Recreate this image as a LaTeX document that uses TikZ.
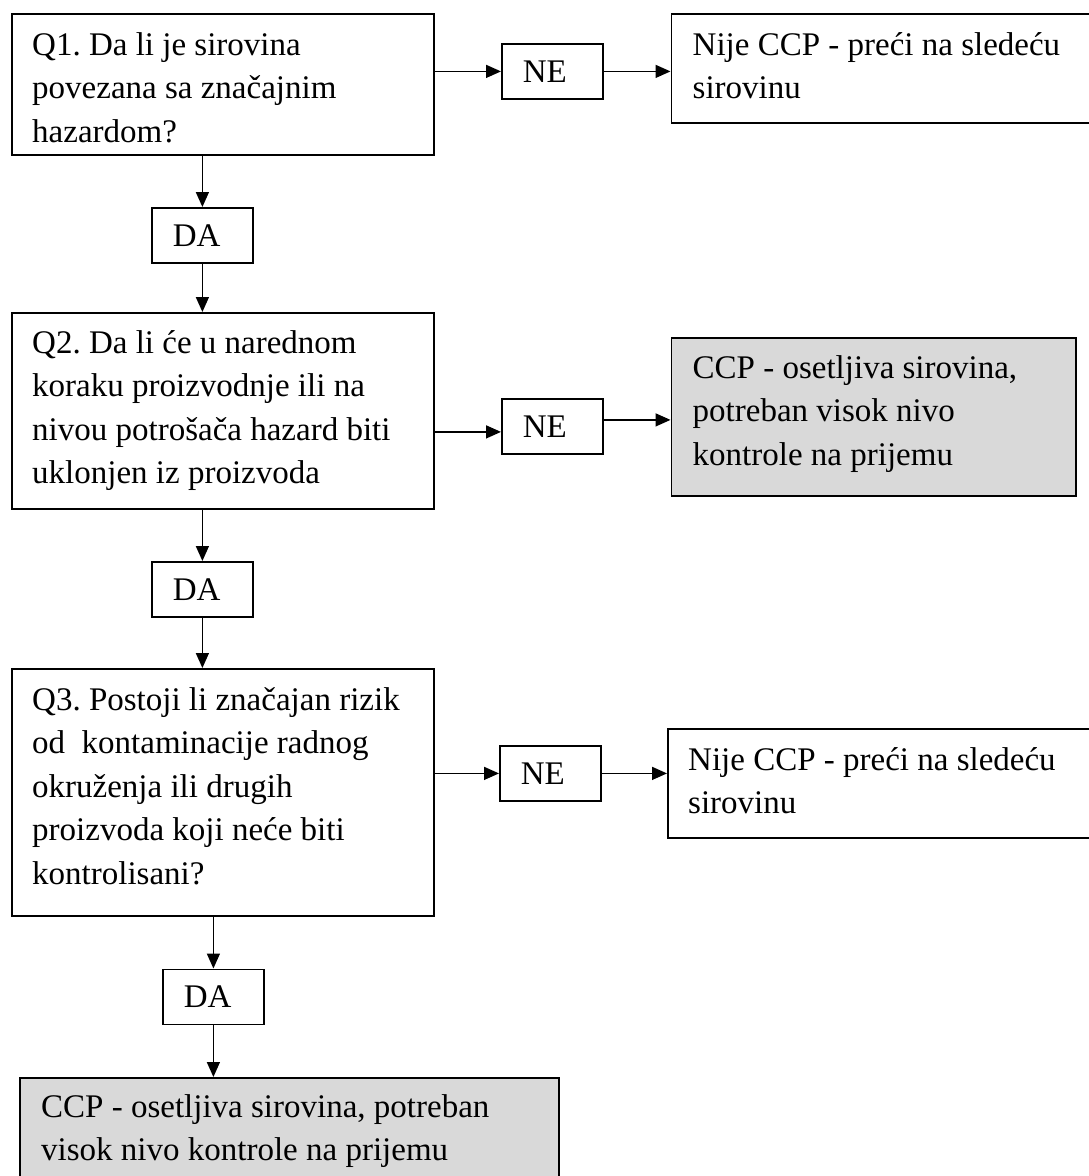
\documentclass[tikz,border=0pt]{standalone}
\usepackage{fontspec}
\setmainfont{Liberation Serif}
\usetikzlibrary{arrows.meta}
\definecolor{boxgray}{HTML}{D9D9D9}
\frenchspacing
\tikzset{
  qbox/.style={draw, line width=1.8pt, anchor=north west, inner sep=0pt},
  gbox/.style={qbox, fill=boxgray},
  lab/.style={draw, line width=1.8pt, anchor=north west, inner xsep=21pt, inner ysep=0pt,
    text width=59pt, align=left, minimum height=55pt, font=\fontsize{33}{43.5}\selectfont},
  txt/.style={anchor=base west, inner sep=0pt, font=\fontsize{33}{43.5}\selectfont},
  arr/.style={line width=1.5pt, -{Triangle[length=15pt,width=13pt]}},
}
\begin{document}
\begin{tikzpicture}[x=1pt,y=-1pt]
\useasboundingbox[fill=white] (0,0) rectangle (1089,1176);

% question boxes
\node[qbox, minimum width=422pt, minimum height=141pt] (Q1) at (11,13) {};
\node[qbox, minimum width=422pt, minimum height=196pt] (Q2) at (11,312) {};
\node[qbox, minimum width=422pt, minimum height=247pt] (Q3) at (11,668) {};

% result boxes
\node[qbox, minimum width=425pt, minimum height=109pt] (R1) at (670.5,13) {};
\node[gbox, minimum width=404.5pt, minimum height=158pt] (R2) at (670.5,337) {};
\node[qbox, minimum width=428pt, minimum height=109pt] (R3) at (667,728) {};
\node[gbox, minimum width=539pt, minimum height=112pt] (F) at (19,1077) {};

% DA / NE boxes
\node[lab] (DA1) at (151,207) {DA};
\node[lab] (DA2) at (151,561) {DA};
\node[lab] (DA3) at (162,968.5) {DA};
\node[lab] (NE1) at (501,43) {NE};
\node[lab] (NE2) at (501,398) {NE};
\node[lab] (NE3) at (499,745) {NE};

% texts
\node[txt] (Q1t) at ([shift={(21pt,-42pt)}]Q1.north west)
  {\begin{tabular}[t]{@{}l@{}}Q1. Da li je sirovina\\povezana sa značajnim\\hazardom?\end{tabular}};
\node[txt] (Q2t) at ([shift={(21pt,-41pt)}]Q2.north west)
  {\begin{tabular}[t]{@{}l@{}}Q2. Da li će u narednom\\koraku proizvodnje ili na\\nivou potrošača hazard biti\\uklonjen iz proizvoda\end{tabular}};
\node[txt] (Q3t) at ([shift={(21pt,-42pt)}]Q3.north west)
  {\begin{tabular}[t]{@{}l@{}}Q3. Postoji li značajan rizik\\od\ \ kontaminacije radnog\\okruženja ili drugih\\proizvoda koji neće biti\\kontrolisani?\end{tabular}};
\node[txt] (R1t) at ([shift={(22pt,-42pt)}]R1.north west)
  {\begin{tabular}[t]{@{}l@{}}Nije CCP - preći na sledeću\\sirovinu\end{tabular}};
\node[txt] (R2t) at ([shift={(22pt,-41pt)}]R2.north west)
  {\begin{tabular}[t]{@{}l@{}}CCP - osetljiva sirovina,\\potreban visok nivo\\kontrole na prijemu\end{tabular}};
\node[txt] (R3t) at ([shift={(21pt,-42pt)}]R3.north west)
  {\begin{tabular}[t]{@{}l@{}}Nije CCP - preći na sledeću\\sirovinu\end{tabular}};
\node[txt] (Ft) at ([shift={(22pt,-40pt)}]F.north west)
  {\begin{tabular}[t]{@{}l@{}}CCP - osetljiva sirovina, potreban\\visok nivo kontrole na prijemu\end{tabular}};

% connectors: row 1
\draw[arr] (Q1.east |- NE1.west) -- (NE1.west);
\draw[arr] (NE1.east) -- (R1.west |- NE1.east);
\draw[arr] (Q1.south -| DA1.north) -- (DA1.north);
\draw[arr] (DA1.south) -- (DA1.south |- Q2.north);

% row 2
\coordinate (n2in) at ([yshift=-5.5pt]NE2.west);
\coordinate (r2in) at ([yshift=-3pt]R2.west);
\draw[arr] (Q2.east |- n2in) -- (n2in);
\draw[arr] (NE2.east |- r2in) -- (r2in);
\draw[arr] (Q2.south -| DA2.north) -- (DA2.north);
\draw[arr] (DA2.south) -- (DA2.south |- Q3.north);

% row 3
\draw[arr] (Q3.east |- NE3.west) -- (NE3.west);
\draw[arr] (NE3.east) -- (R3.west |- NE3.east);
\draw[arr] (Q3.south -| DA3.north) -- (DA3.north);
\draw[arr] (DA3.south) -- (DA3.south |- F.north);
\end{tikzpicture}
\end{document}
